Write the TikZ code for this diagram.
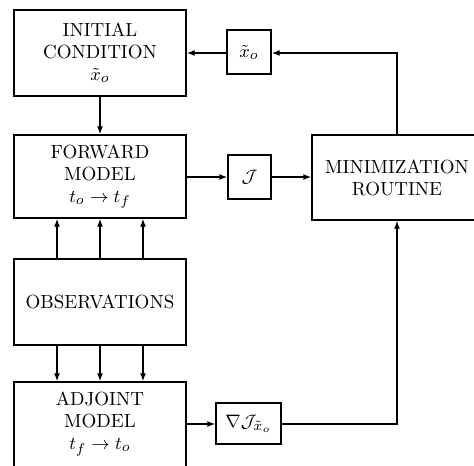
\documentclass[tikz,border=0pt]{standalone}
\usetikzlibrary{arrows.meta}
\begin{document}
\begin{tikzpicture}[x=0.5pt,y=-0.5pt,
  every node/.style={font=\fontsize{9.5}{11}\selectfont},
  bigbox/.style={draw,line width=0.7pt,minimum width=86pt,inner sep=0pt,align=center},
  smallbox/.style={draw,line width=0.7pt,inner sep=0pt,align=center},
  conn/.style={line width=0.7pt,-{Latex[length=4pt,width=3pt]}},
  plain/.style={line width=0.7pt}]
\useasboundingbox (0,0) rectangle (474,465);
\node[bigbox,minimum height=43pt] (init) at (100,53) {INITIAL\\CONDITION\\$\tilde{x}_o$};
\node[bigbox,minimum height=41.5pt] (fwd) at (100,176.5) {FORWARD\\MODEL\\$t_o\rightarrow t_f$};
\node[bigbox,minimum height=43pt] (obs) at (100,302) {OBSERVATIONS};
\node[bigbox,minimum height=43pt] (adj) at (100,425) {};
\node[align=center,inner sep=0pt] (adjtext) at (100,424) {ADJOINT\\MODEL\\$t_f\rightarrow t_o$};
\node[smallbox,minimum width=22pt,minimum height=22pt] (xo) at (249,52) {$\tilde{x}_o$};
\node[smallbox,minimum width=21.5pt,minimum height=22pt] (J) at (249.5,177) {$\mathcal{J}$};
\node[bigbox,minimum width=85pt,minimum height=42.5pt] (min) at (397,177.5) {MINIMIZATION\\ROUTINE};
\node[smallbox,minimum width=32.5pt,minimum height=20.5pt] (grad) at (248.5,423.5) {$\nabla\mathcal{J}_{\tilde{x}_o}$};
\coordinate (c1) at (397,53);
\coordinate (c2) at (397,424);
\draw[conn] (init) -- (fwd);
\draw[conn] (fwd.east |- J) -- (J.west);
\draw[conn] (J.east) -- (min.west |- J);
\draw[conn] (min.north) -- (c1) -- (xo.east |- c1);
\draw[conn] (xo.west |- c1) -- (init.east |- c1);
\foreach \x in {57,100,143} {
  \draw[conn] (obs.north -| \x,0) -- (fwd.south -| \x,0);
  \draw[conn] (obs.south -| \x,0) -- (adj.north -| \x,0);
}
\draw[conn] (adj.east |- c2) -- (grad.west |- c2);
\draw[conn] (grad.east |- c2) -- (c2) -- (min.south);
\end{tikzpicture}
\end{document}
